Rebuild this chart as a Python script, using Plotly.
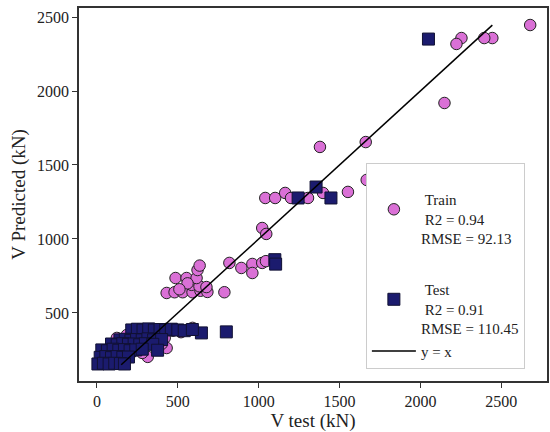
import plotly.graph_objects as go

# Train set: measured vs predicted shear capacity (kN)
train_test_kn = [
    2679, 2445, 2395, 2254, 2223, 2149, 1668, 1662, 1379,
    1041, 1102, 1164, 1200, 1305, 1398, 1552,
    1022, 1047,
    819, 893, 961, 961, 1022, 1045,
    431, 480, 530, 591, 640, 683, 788, 585, 634, 677, 486, 554, 616, 622, 635, 560, 510,
    123, 185, 419, 431, 560, 591, 300, 250, 200, 150, 350, 100, 60, 230, 380, 470, 520, 314, 400, 280,
]
train_pred_kn = [
    2446, 2358, 2358, 2358, 2318, 1919, 1399, 1655, 1622,
    1277, 1277, 1311, 1277, 1277, 1311, 1318,
    1074, 1034,
    838, 804, 831, 770, 838, 850,
    635, 640, 640, 640, 650, 642, 640, 690, 680, 675, 736, 736, 736, 790, 820, 700, 660,
    331, 351, 331, 263, 385, 399, 380, 300, 250, 200, 350, 170, 160, 280, 300, 380, 370, 203, 290, 230,
]

# Test set
test_test_kn = [
    2050, 1244, 1355, 1447, 1100, 1105, 800, 646,
    215, 250, 285, 320, 355, 390, 425, 460, 500, 540, 590,
    142, 175, 210, 245, 280, 315, 350, 400,
    90, 125, 160, 195, 230, 265, 300, 345,
    30, 65, 100, 135, 170, 205, 240, 280, 375,
    20, 55, 90, 125, 160, 195,
    6, 40, 75, 110, 145, 170,
]
test_pred_kn = [
    2351, 1277, 1351, 1277, 860, 830, 372, 365,
    385, 390, 385, 392, 385, 388, 385, 390, 385, 380, 388,
    318, 322, 315, 320, 318, 325, 318, 320,
    290, 285, 292, 288, 290, 285, 292, 288,
    250, 245, 255, 248, 252, 245, 250, 255, 248,
    200, 205, 198, 205, 200, 202,
    155, 160, 155, 160, 158, 155,
]

# Reference line y = x
identity_kn = [150, 2445]

x_ticks = [0, 500, 1000, 1500, 2000, 2500]
y_ticks = [500, 1000, 1500, 2000, 2500]

train_label = "&nbsp;<br>&nbsp;Train<br>&nbsp;R2 = 0.94<br>RMSE = 92.13"
test_label = "&nbsp;<br>&nbsp;Test<br>&nbsp;R2 = 0.91<br>RMSE = 110.45"
line_label = "y = x"

FONT = "Liberation Serif"

fig = go.Figure()

fig.add_trace(go.Scatter(
    x=train_test_kn, y=train_pred_kn, mode="markers", name=train_label,
    legendgroup="train",
    marker=dict(symbol="circle", size=11.5, color="#DA70D6",
                line=dict(color="#222222", width=1)),
))
fig.add_trace(go.Scatter(
    x=test_test_kn, y=test_pred_kn, mode="markers", name=test_label,
    legendgroup="test",
    marker=dict(symbol="square", size=12, color="#1B1B6E",
                line=dict(color="#111133", width=1)),
))
fig.add_trace(go.Scatter(
    x=identity_kn, y=identity_kn, mode="lines", name=line_label,
    legendgroup="test",
    line=dict(color="black", width=1.5),
))

axis_common = dict(
    showgrid=False, zeroline=False,
    showline=True, linecolor="#333333", linewidth=1.5, mirror=True,
    ticks="outside", ticklen=5, tickwidth=1, tickcolor="#333333",
    tickfont=dict(family=FONT, size=16, color="#222222"),
)

fig.update_layout(
    width=550, height=432,
    margin=dict(l=79, r=1, t=8, b=51),
    paper_bgcolor="white", plot_bgcolor="white",
    font=dict(family=FONT, color="#222222"),
    xaxis=dict(
        range=[-111, 2783], tickvals=x_ticks,
        title=dict(text="V test (kN)", font=dict(family=FONT, size=19), standoff=6),
        **axis_common,
    ),
    yaxis=dict(
        range=[40, 2561], tickvals=y_ticks,
        title=dict(text="V Predicted (kN)", font=dict(family=FONT, size=19), standoff=6),
        **axis_common,
    ),
    legend=dict(
        x=0.613, y=0.585, xanchor="left", yanchor="top",
        bgcolor="white", bordercolor="#cccccc", borderwidth=1,
        font=dict(family=FONT, size=15, color="#222222"),
        itemwidth=44, tracegroupgap=9,
        entrywidth=190, entrywidthmode="pixels",
    ),
    showlegend=True,
)

fig.write_html("out.html")
